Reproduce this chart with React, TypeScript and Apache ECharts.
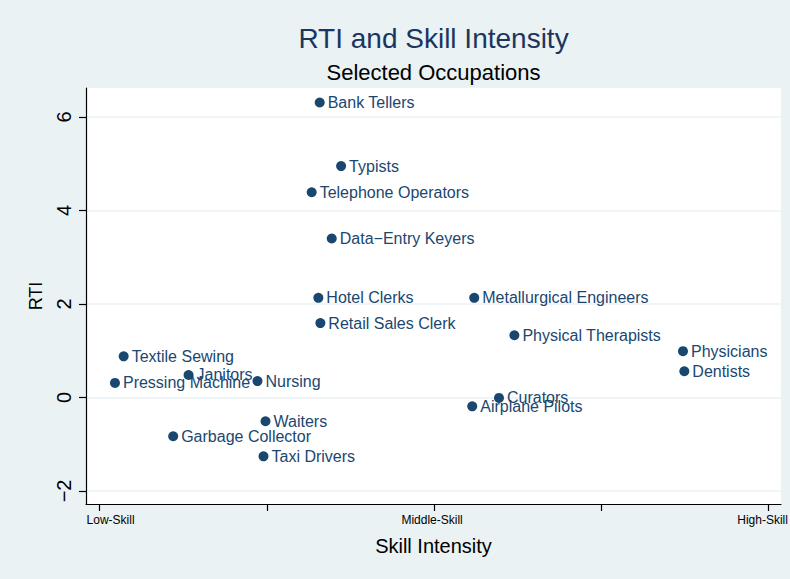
import React, { useEffect, useRef } from "react";
import * as echarts from "echarts";

const occupations = [
  "Bank Tellers",
  "Typists",
  "Telephone Operators",
  "Data\u2212Entry Keyers",
  "Hotel Clerks",
  "Retail Sales Clerk",
  "Metallurgical Engineers",
  "Physical Therapists",
  "Physicians",
  "Dentists",
  "Curators",
  "Airplane Pilots",
  "Textile Sewing",
  "Janitors",
  "Pressing Machine",
  "Nursing",
  "Waiters",
  "Garbage Collector",
  "Taxi Drivers",
];
const skillValues = [32.9, 36.1, 31.7, 34.7, 32.7, 33.0, 56.0, 62.0, 87.2, 87.4, 59.7, 55.7, 3.6, 13.3, 2.3, 23.6, 24.8, 11.0, 24.5];
const rtiValues = [6.31, 4.95, 4.39, 3.4, 2.13, 1.59, 2.13, 1.33, 0.99, 0.56, -0.01, -0.19, 0.88, 0.48, 0.31, 0.35, -0.51, -0.83, -1.26];

const yTicks = [-2, 0, 2, 4, 6];
const xTicks = [0, 25, 50, 75, 100];
const xLabelValues = [0, 50, 100];
const xLabelTexts = ["Low-Skill", "Middle-Skill", "High-Skill"];

const FONT = "'Liberation Sans', Arial, Helvetica, sans-serif";
const NAVY = "#1A476F";
const BG = "#EAF2F3";

export default function App() {
  const ref = useRef<HTMLDivElement>(null);
  useEffect(() => {
    if (!ref.current) return;
    const chart = echarts.init(ref.current, undefined, { renderer: "svg" });
    const data = occupations.map((n, i) => ({ name: n, value: [skillValues[i], rtiValues[i]] }));
    chart.setOption({
      animation: false,
      backgroundColor: BG,
      title: [
        {
          text: "RTI and Skill Intensity",
          left: 433.5,
          top: 24,
          textAlign: "center",
          padding: 0,
          textStyle: { fontFamily: FONT, fontSize: 28, fontWeight: "normal", color: "#1C355E" },
        },
        {
          text: "Selected Occupations",
          left: 433.5,
          top: 61,
          textAlign: "center",
          padding: 0,
          textStyle: { fontFamily: FONT, fontSize: 22, fontWeight: "normal", color: "#000" },
        },
      ],
      grid: {
        left: 86,
        right: 9,
        top: 88,
        bottom: 75,
        show: true,
        backgroundColor: "#fff",
        borderWidth: 0,
        containLabel: false,
        outerBoundsMode: "none",
      },
      xAxis: {
        type: "value",
        min: -2.03,
        max: 101.85,
        name: "Skill Intensity",
        nameLocation: "middle",
        nameGap: 32,
        nameTextStyle: { fontFamily: FONT, fontSize: 20, color: "#000" },
        axisLine: { show: true, onZero: false, lineStyle: { color: "#000", width: 1.2 } },
        axisTick: { show: true, length: 7, customValues: xTicks, lineStyle: { color: "#000", width: 1.2 } },
        axisLabel: {
          show: true,
          customValues: xLabelValues,
          margin: 10,
          fontFamily: FONT,
          fontSize: 12,
          color: "#000",
          formatter: (v: number) => {
            const i = xLabelValues.indexOf(v);
            if (i < 0) return "";
            const key = i === 0 ? "l" : i === 2 ? "h" : "m";
            return `{${key}|${xLabelTexts[i]}}`;
          },
          rich: {
            l: { fontFamily: FONT, fontSize: 12, color: "#000", padding: [0, 0, 0, 22] },
            m: { fontFamily: FONT, fontSize: 12, color: "#000", padding: [0, 4, 0, 0] },
            h: { fontFamily: FONT, fontSize: 12, color: "#000", padding: [0, 12, 0, 0] },
          },
        },
        splitLine: { show: false },
      },
      yAxis: {
        type: "value",
        min: -2.28,
        max: 6.62,
        name: "RTI",
        nameLocation: "middle",
        nameGap: 41,
        nameTextStyle: { fontFamily: FONT, fontSize: 18, color: "#000" },
        axisLine: { show: true, onZero: false, lineStyle: { color: "#000", width: 1.2 } },
        axisTick: { show: true, length: 7, customValues: yTicks, lineStyle: { color: "#000", width: 1.2 } },
        axisLabel: {
          show: true,
          customValues: yTicks,
          rotate: 90,
          margin: 12,
          fontFamily: FONT,
          fontSize: 20,
          color: "#000",
          formatter: (v: number) => String(v).replace("-", "\u2212"),
        },
        splitLine: { show: true, lineStyle: { color: BG, width: 1.5 } },
      },
      series: [
        {
          type: "scatter",
          data,
          symbol: "circle",
          symbolSize: 10,
          itemStyle: { color: NAVY, opacity: 1 },
          label: {
            show: true,
            position: "right",
            distance: 3,
            formatter: "{b}",
            fontFamily: FONT,
            fontSize: 16,
            color: NAVY,
            opacity: 1,
          },
        },
      ],
    });
    return () => chart.dispose();
  }, []);
  return <div ref={ref} style={{ position: "fixed", left: 0, top: 0, width: 790, height: 579 }} />;
}
